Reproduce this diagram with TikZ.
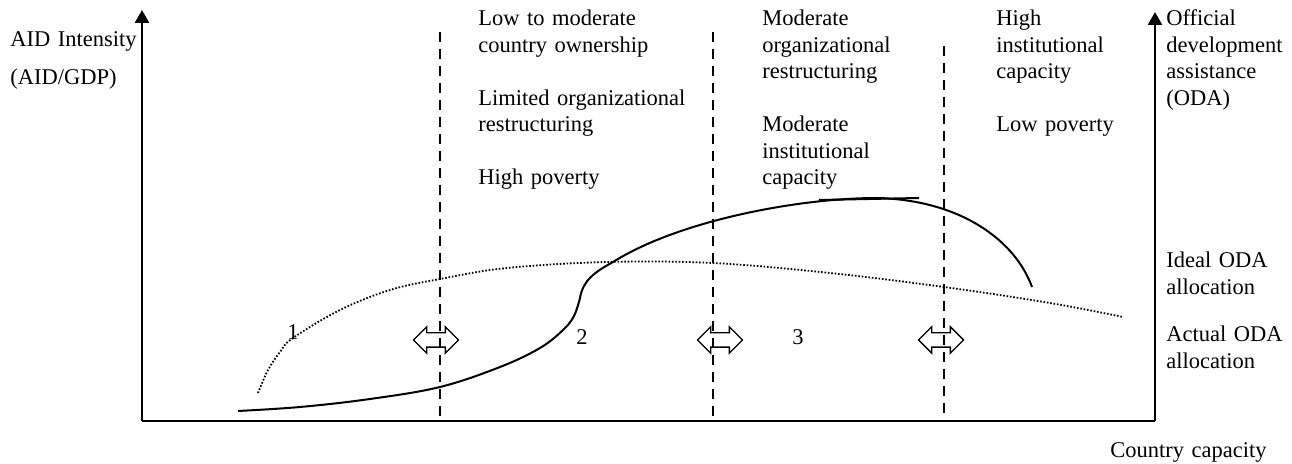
\documentclass[tikz,border=0pt]{standalone}
\usepackage{fontspec}
\setmainfont{Liberation Serif}
\usetikzlibrary{arrows.meta,shapes.arrows}

\begin{document}
\begin{tikzpicture}[x=0.5pt, y=-0.5pt, font=\fontsize{11.25}{13.25}\selectfont]

% Picture measured in pixels of the original figure
\useasboundingbox (0,0) rectangle (1292,464);

% Define styles for axes, borders and labels
\tikzstyle{eje} = [line width=1.25pt, -{Triangle[width=7pt,length=6.5pt]}]
\tikzstyle{limite} = [line width=1.2pt, dash pattern=on 5pt off 3.5pt]
\tikzstyle{texto} = [anchor=base west, inner sep=0pt, text width=110pt, align=left]
\tikzstyle{cambio} = [double arrow, draw, line width=0.7pt, inner xsep=0pt, inner ysep=3.25pt, minimum height=22.5pt, minimum width=12.5pt, double arrow head extend=3pt]

% Axes
\coordinate (origen) at (142,421);
\coordinate (ytop) at (142,10);
\coordinate (xfin) at (1155,421);
\coordinate (odatop) at (1155,12);
\draw[eje] (origen) -- (ytop);
\draw[line width=1.25pt] (origen) -- (xfin);
\draw[eje] (xfin) -- (odatop);

% Borders between the stages
\coordinate (b1top) at (440,32);
\coordinate (b1bot) at (440,418);
\coordinate (b2top) at (713,32);
\coordinate (b2bot) at (713,418);
\coordinate (b3top) at (944,46);
\coordinate (b3bot) at (944,420);
\draw[limite] (b1top) -- (b1bot);
\draw[limite] (b2top) -- (b2bot);
\draw[limite] (b3top) -- (b3bot);

\node[cambio] (c1) at (436,340) {};
\node[cambio] (c2) at (720,340) {};
\node[cambio] (c3) at (941,340) {};

% Ideal and actual ODA allocation
\draw[line width=0.9pt, dash pattern=on 0.8pt off 0.9pt] plot[smooth, tension=0.6] coordinates {
  (258,393) (268,370) (280,352) (293,338) (340,310) (390,290) (440,279)
  (507,268) (607,262) (713,263) (830,273) (944,287) (1050,303) (1123,317)};
\draw[line width=1pt] plot[smooth, tension=0.6] coordinates {
  (238,411) (300,407) (370,399) (440,387) (500,367) (540,348) (563,330)
  (574,316) (580,298)}
  .. controls (583,280) and (595,272) .. (613,262)
  .. controls (680,220) and (800,198) .. (877,198)
  .. controls (960,200) and (1015,240) .. (1032,287);
\coordinate (tg1) at (819,200);
\coordinate (tg2) at (919,198);
\draw[line width=1pt] (tg1) -- (tg2);

% Stage numbers
\node (n1) at (293,332) {1};
\node (n2) at (582,337) {2};
\node (n3) at (798,337) {3};

% Labels
\node[texto] (yl1) at (10,47) {AID Intensity};
\node[texto] (yl2) at (10,85) {(AID/GDP)};
\node[texto] (z1) at (478,26) {Low to moderate\\country ownership\\[13.25pt]Limited organizational\\restructuring\\[13.25pt]High poverty};
\node[texto] (z2) at (762,26) {Moderate\\organizational\\restructuring\\[13.25pt]Moderate\\institutional\\capacity};
\node[texto] (z3) at (996,26) {High\\institutional\\capacity\\[13.25pt]Low poverty};
\node[texto, text width=63pt] (oda) at (1166,26) {Official\\development\\assistance\\(ODA)};
\node[texto, text width=63pt] (ideal) at (1166,268) {Ideal ODA\\allocation};
\node[texto, text width=63pt] (actual) at (1166,342) {Actual ODA\\allocation};
\node[texto] (xl) at (1110,458) {Country capacity};
\end{tikzpicture}
\end{document}
